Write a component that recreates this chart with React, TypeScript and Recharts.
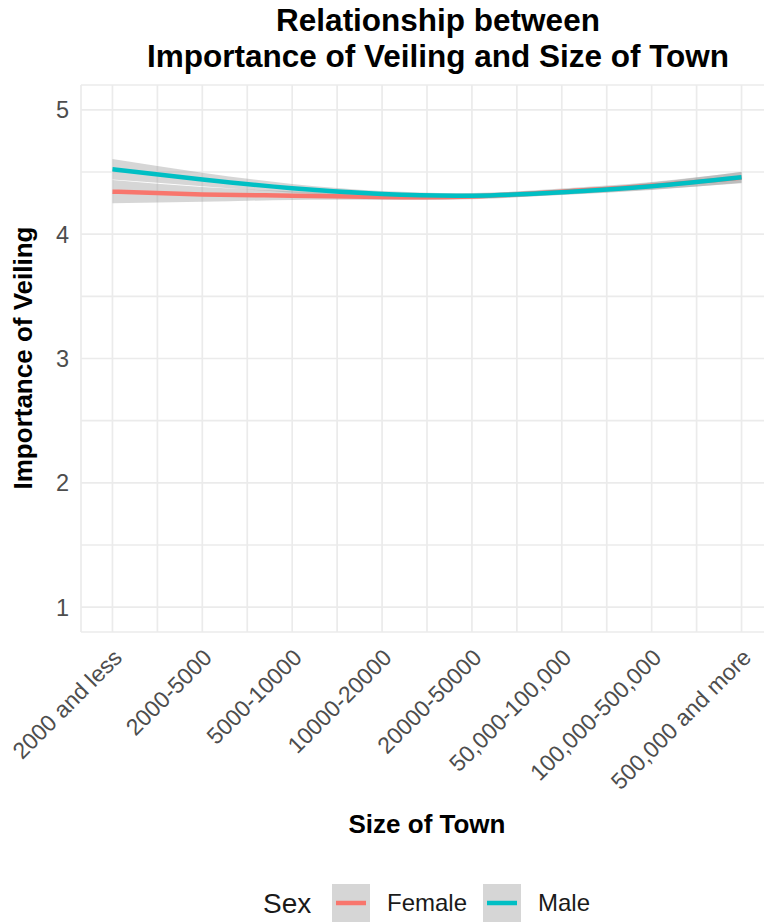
import React from 'react';
import { ComposedChart, Line, Area, XAxis, YAxis, CartesianGrid } from 'recharts';

// Town-size categories (ordered) and the smoothed fits per sex
const townSizes = [
  '2000 and less',
  '2000-5000',
  '5000-10000',
  '10000-20000',
  '20000-50000',
  '50,000-100,000',
  '100,000-500,000',
  '500,000 and more',
];
const femaleFit = [4.342, 4.32, 4.31, 4.3, 4.303, 4.342, 4.39, 4.455];
const femaleHalfWidth = [0.093, 0.06, 0.035, 0.025, 0.022, 0.025, 0.03, 0.045];
const maleFit = [4.522, 4.44, 4.369, 4.323, 4.31, 4.337, 4.385, 4.458];
const maleHalfWidth = [0.083, 0.055, 0.035, 0.025, 0.022, 0.022, 0.03, 0.045];

const yTicks = [1, 1.5, 2, 2.5, 3, 3.5, 4, 4.5, 5];
const xTicks = [1, 1.5, 2, 2.5, 3, 3.5, 4, 4.5, 5, 5.5, 6, 6.5, 7, 7.5, 8];

const sexLevels = ['Female', 'Male'];
const sexColors = ['#F8766D', '#00BFC4'];

const FONT = '"Liberation Sans", Arial, Helvetica, sans-serif';
const GRID = '#EBEBEB';
const TICK_TEXT = '#4D4D4D';
const RIBBON = '#999999';

const data = townSizes.map((name, i) => ({
  pos: i + 1,
  name,
  Female: femaleFit[i],
  FemaleBand: [femaleFit[i] - femaleHalfWidth[i], femaleFit[i] + femaleHalfWidth[i]],
  Male: maleFit[i],
  MaleBand: [maleFit[i] - maleHalfWidth[i], maleFit[i] + maleHalfWidth[i]],
}));

const YTick = (props: any) => {
  const v = props.payload?.value;
  if (!Number.isInteger(v)) return <g />;
  return (
    <text
      x={69}
      y={props.y}
      dy="0.36em"
      textAnchor="end"
      fontSize={23.5}
      fontFamily={FONT}
      fill={TICK_TEXT}
    >
      {v}
    </text>
  );
};

const XTick = (props: any) => {
  const v = props.payload?.value;
  if (!Number.isInteger(v)) return <g />;
  const ex = props.x + 11;
  const ey = 659;
  return (
    <text
      x={ex}
      y={ey}
      textAnchor="end"
      fontSize={23}
      fontFamily={FONT}
      fill={TICK_TEXT}
      transform={`rotate(-45, ${ex}, ${ey})`}
    >
      {townSizes[v - 1]}
    </text>
  );
};

export default function App() {
  return (
    <div
      style={{
        position: 'absolute',
        left: 0,
        top: 0,
        width: 764,
        height: 922,
        overflow: 'hidden',
        background: '#ffffff',
        fontFamily: FONT,
      }}
    >
      <ComposedChart
        width={776}
        height={922}
        data={data}
        margin={{ top: 85, right: 3, bottom: 0, left: 0 }}
      >
        <CartesianGrid stroke={GRID} strokeWidth={1.7} />
        <XAxis
          type="number"
          dataKey="pos"
          domain={[0.65, 8.35]}
          ticks={xTicks}
          interval={0}
          allowDataOverflow
          axisLine={false}
          tickLine={false}
          height={290}
          tick={XTick}
        />
        <YAxis
          type="number"
          domain={[0.8, 5.2]}
          ticks={yTicks}
          interval={0}
          allowDataOverflow
          axisLine={false}
          tickLine={false}
          width={81}
          tick={YTick}
        />
        <Area
          type="natural"
          dataKey="FemaleBand"
          stroke="none"
          fill={RIBBON}
          fillOpacity={0.4}
          isAnimationActive={false}
        />
        <Line
          type="natural"
          dataKey="Female"
          stroke={sexColors[0]}
          strokeWidth={4.5}
          dot={false}
          activeDot={false}
          isAnimationActive={false}
        />
        <Area
          type="natural"
          dataKey="MaleBand"
          stroke="none"
          fill={RIBBON}
          fillOpacity={0.4}
          isAnimationActive={false}
        />
        <Line
          type="natural"
          dataKey="Male"
          stroke={sexColors[1]}
          strokeWidth={4.5}
          dot={false}
          activeDot={false}
          isAnimationActive={false}
        />
      </ComposedChart>

      <svg
        width={764}
        height={922}
        style={{ position: 'absolute', left: 0, top: 0, pointerEvents: 'none' }}
      >
        <g fontFamily={FONT} fill="#000000">
          <text x={438} y={31} textAnchor="middle" fontSize={31.5} fontWeight="bold">
            Relationship between
          </text>
          <text x={438} y={66.5} textAnchor="middle" fontSize={31.5} fontWeight="bold">
            Importance of Veiling and Size of Town
          </text>
          <text
            x={32}
            y={358}
            textAnchor="middle"
            fontSize={26}
            fontWeight="bold"
            transform="rotate(-90, 32, 358)"
          >
            Importance of Veiling
          </text>
          <text x={427} y={833} textAnchor="middle" fontSize={26} fontWeight="bold">
            Size of Town
          </text>
          <text x={263} y={913} fontSize={28} fill="#1A1A1A">
            Sex
          </text>
          {sexLevels.map((lvl, i) => {
            const bx = i === 0 ? 332 : 483;
            return (
              <g key={lvl}>
                <rect x={bx} y={884} width={38} height={38} fill="#D6D6D6" />
                <line
                  x1={bx + 4}
                  x2={bx + 34}
                  y1={903}
                  y2={903}
                  stroke={sexColors[i]}
                  strokeWidth={4.5}
                />
                <text x={bx + 55} y={911} fontSize={24} fill="#1A1A1A">
                  {lvl}
                </text>
              </g>
            );
          })}
        </g>
      </svg>
    </div>
  );
}
